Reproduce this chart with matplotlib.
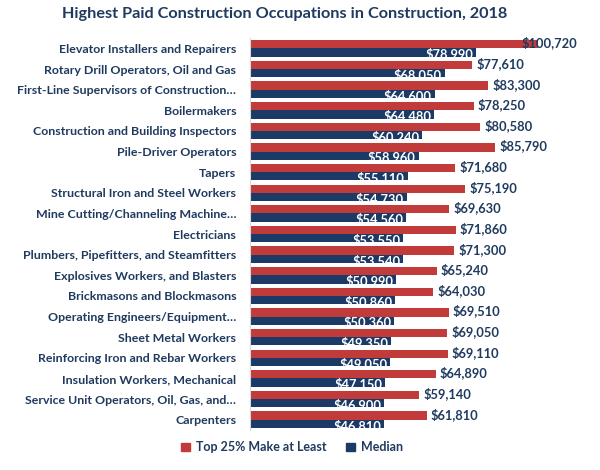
import numpy as np
import matplotlib.pyplot as plt
from matplotlib.patches import Patch

plt.rcParams['font.family'] = ['Lato', 'DejaVu Sans']

occupations = [
    "Elevator Installers and Repairers",
    "Rotary Drill Operators, Oil and Gas",
    "First-Line Supervisors of Construction\u2026",
    "Boilermakers",
    "Construction and Building Inspectors",
    "Pile-Driver Operators",
    "Tapers",
    "Structural Iron and Steel Workers",
    "Mine Cutting/Channeling Machine\u2026",
    "Electricians",
    "Plumbers, Pipefitters, and Steamfitters",
    "Explosives Workers, and Blasters",
    "Brickmasons and Blockmasons",
    "Operating Engineers/Equipment\u2026",
    "Sheet Metal Workers",
    "Reinforcing Iron and Rebar Workers",
    "Insulation Workers, Mechanical",
    "Service Unit Operators, Oil, Gas, and\u2026",
    "Carpenters",
]
top25 = [100720, 77610, 83300, 78250, 80580, 85790, 71680, 75190, 69630, 71860,
         71300, 65240, 64030, 69510, 69050, 69110, 64890, 59140, 61810]
median = [78990, 68050, 64600, 64480, 60240, 58960, 55110, 54730, 54560, 53550,
          53540, 50990, 50860, 50360, 49350, 49050, 47150, 46900, 46810]

red = '#c23b3b'
navy = '#1b3a66'
text_col = '#1f3a5f'

fig = plt.figure(figsize=(6, 4.7), dpi=100)
ax = fig.add_axes([0.4167, 0.085, 0.57, 0.834])

y = np.arange(len(occupations))
h = 0.4
ax.barh(y - h / 2, top25, height=h, color=red)
med_bars = ax.barh(y + h / 2, median, height=h, color=navy)

for yi, v in zip(y, top25):
    # biggest label gets pulled back so it stays in the frame
    off = -12 if v > 95000 else 3
    ax.annotate(f"${v:,}", (v, yi - h / 2), xytext=(off, 1), textcoords='offset points',
                ha='left', va='center', fontsize=9.3, fontweight='bold', color=text_col)
for yi, v, bar in zip(y, median, med_bars):
    # white text, only the part over the bar shows
    t = ax.annotate(f"${v:,}", (v, yi + h / 2), xytext=(-2, -1), textcoords='offset points',
                    ha='right', va='center', fontsize=9.3, fontweight='bold', color='white')
    t.set_clip_path(bar)

ax.set_xlim(0, 119600)
ax.set_ylim(len(occupations) - 0.5, -0.5)
ax.set_yticks(y)
ax.set_yticklabels(occupations, fontsize=8.9, fontweight='bold', color=text_col)
ax.tick_params(axis='y', length=0, pad=10)
ax.set_xticks([])
for s in ['top', 'right', 'bottom']:
    ax.spines[s].set_visible(False)
ax.spines['left'].set_color('#d9d9d9')

fig.suptitle("Highest Paid Construction Occupations in Construction, 2018",
             x=0.475, y=0.985, fontsize=11.7, fontweight='bold', color=text_col)

handles = [Patch(color=red, label="Top 25% Make at Least"), Patch(color=navy, label="Median")]
fig.legend(handles=handles, loc='center', bbox_to_anchor=(0.487, 0.048), ncol=2, frameon=False,
           handlelength=0.7, handleheight=0.7, columnspacing=1.5, handletextpad=0.5,
           prop={'size': 9, 'weight': 'bold'}, labelcolor=text_col)

fig.savefig("out.png", dpi=100)
